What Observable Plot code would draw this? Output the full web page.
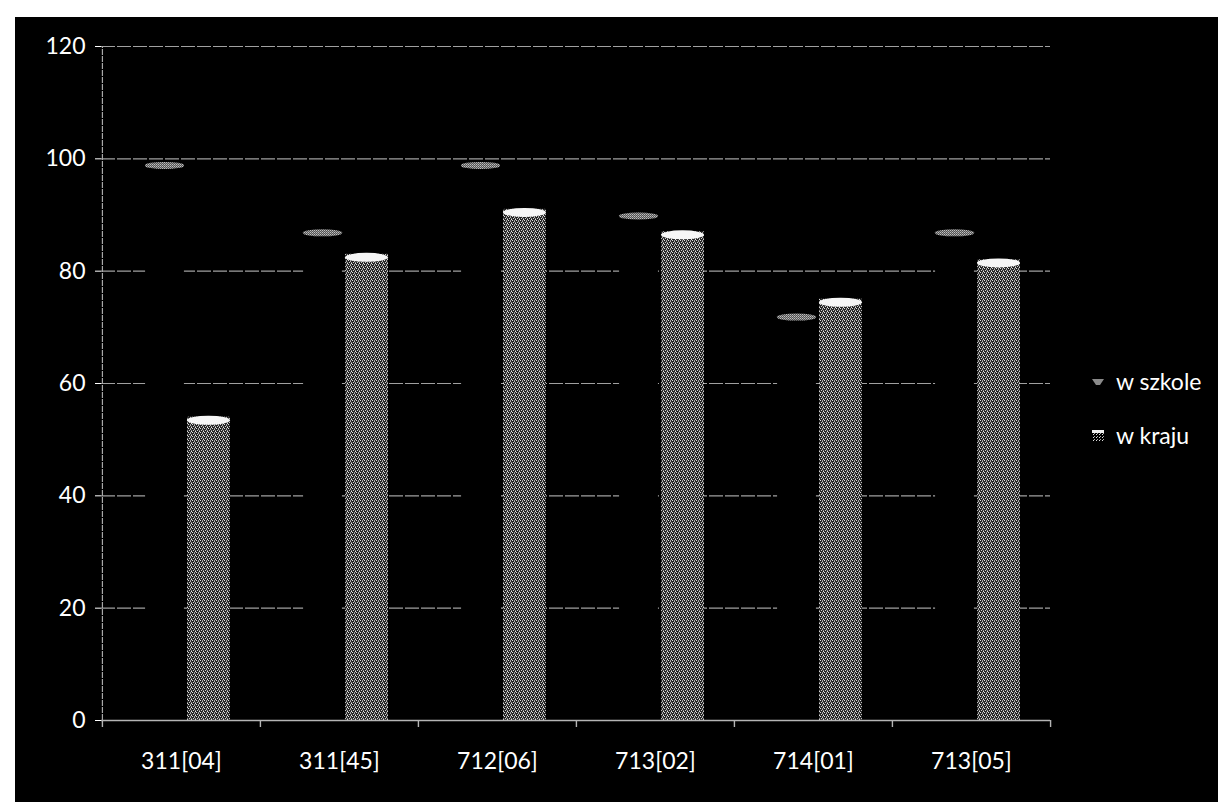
<!DOCTYPE html>
<html><head><meta charset="utf-8">
<script src="https://cdn.jsdelivr.net/npm/d3@7"></script>
<script src="https://cdn.jsdelivr.net/npm/@observablehq/plot@0.6"></script>
<style>
html,body{margin:0;padding:0;background:#fff;width:1218px;height:802px;overflow:hidden}
#bg{position:absolute;left:15px;top:17px;width:1203px;height:785px;background:#000}
#chart{position:absolute;left:0;top:0}
.leg{position:absolute;left:1090px;font-family:Lato,sans-serif;font-size:23px;color:#fff;display:flex;align-items:center;line-height:1}
.leg svg{margin-right:10px}
</style></head><body>
<div id="bg"></div>
<div id="chart"></div>
<div class="leg" style="top:370px"><svg width="16" height="14"><path d="M2,4 L14,4 L10,10 L6,10 Z" fill="#8a8a8a"/></svg><span>w szkole</span></div>
<div class="leg" style="top:424px"><svg width="16" height="16"><rect x="2" y="2" width="12" height="12" fill="url(#stippleL)"/><rect x="2" y="2" width="12" height="3" fill="#eee"/><defs><pattern id="stippleL" width="3" height="3" patternUnits="userSpaceOnUse"><rect width="1" height="1" fill="#ddd"/><rect x="1" y="2" width="1" height="1" fill="#aaa"/></pattern></defs></svg><span>w kraju</span></div>
<script>
const categories = ["311[04]", "311[45]", "712[06]", "713[02]", "714[01]", "713[05]"];
const seriesNames = ["w szkole", "w kraju"];
const wSzkole = [99, 87, 99, 90, 72, 87];
const wKraju = [54, 83, 91, 87, 75, 82];
const yTicks = [0, 20, 40, 60, 80, 100, 120];

const szkoleRows = categories.map((c, i) => ({cat: c, series: seriesNames[0], value: wSzkole[i]}));
const krajuRows = categories.map((c, i) => ({cat: c, series: seriesNames[1], value: wKraju[i]}));

const W = 1218, H = 802, ML = 101, MR = 168, MT = 46, MB = 82;
const half = (W - ML - MR) / categories.length / 2;

const chart = Plot.plot({
  width: W, height: H,
  marginLeft: ML, marginRight: MR, marginTop: MT, marginBottom: MB,
  style: {background: "transparent", color: "#fff", fontFamily: "Lato, sans-serif", fontSize: "23px"},
  x: {domain: categories, padding: 0, tickSize: 0, tickPadding: 32, label: null},
  y: {domain: [0, 120], ticks: yTicks, tickSize: 6, tickPadding: 10, label: null},
  marks: [
    Plot.ruleY(yTicks.filter(t => t > 0), {stroke: "#a0a0a0", strokeWidth: 1.2, strokeDasharray: "14,2"}),
    Plot.barY(szkoleRows, {x: "cat", y: "value", fill: "#000", insetLeft: half - 36, insetRight: half - 3}),
    Plot.barY(krajuRows, {x: "cat", y: "value", fill: "url(#stipple)", insetLeft: half + 6, insetRight: half - 49}),
    Plot.barY(szkoleRows, {x: "cat", y1: "value", y2: "value", fill: "url(#capS)", insetLeft: half - 36, insetRight: half - 3, insetTop: -2, insetBottom: -5, rx: 19, ry: 3}),
    Plot.barY(krajuRows, {x: "cat", y1: "value", y2: "value", fill: "#f6f6f6", insetLeft: half + 6, insetRight: half - 49, insetTop: -1, insetBottom: -8, rx: 21, ry: 4.5}),
    Plot.ruleY([0], {stroke: "#b5b5b5", strokeWidth: 1.6}),
    Plot.ruleX([categories[0]], {x: d => d, y1: 0, y2: 120, dx: -half, stroke: "#a8a8a8", strokeWidth: 1.2, strokeDasharray: "6,1"}),
    Plot.ruleX(categories, {x: d => d, y1: 0, y2: 0, dx: -half, insetBottom: -7, stroke: "#b5b5b5", strokeWidth: 1.4}),
    Plot.ruleX([categories[categories.length - 1]], {x: d => d, y1: 0, y2: 0, dx: half, insetBottom: -7, stroke: "#b5b5b5", strokeWidth: 1.4})
  ]
});

chart.insertAdjacentHTML("afterbegin", `<defs>
<pattern id="stipple" width="4" height="4" patternUnits="userSpaceOnUse">
<rect width="4" height="4" fill="#262626"/>
<rect x="0" y="0" width="1" height="1" fill="#e0e0e0"/>
<rect x="2" y="0" width="1" height="1" fill="#9a9a9a"/>
<rect x="2" y="1" width="1" height="1" fill="#b8b8b8"/>
<rect x="1" y="2" width="1" height="1" fill="#cfcfcf"/>
<rect x="3" y="2" width="1" height="1" fill="#8a8a8a"/>
<rect x="3" y="3" width="1" height="1" fill="#e8e8e8"/>
</pattern>
<pattern id="capS" width="2" height="2" patternUnits="userSpaceOnUse">
<rect width="2" height="2" fill="#555"/>
<rect width="1" height="1" fill="#c0c0c0"/>
<rect x="1" y="1" width="1" height="1" fill="#999"/>
</pattern>
</defs>`);
document.getElementById("chart").appendChild(chart);
</script>
</body></html>
